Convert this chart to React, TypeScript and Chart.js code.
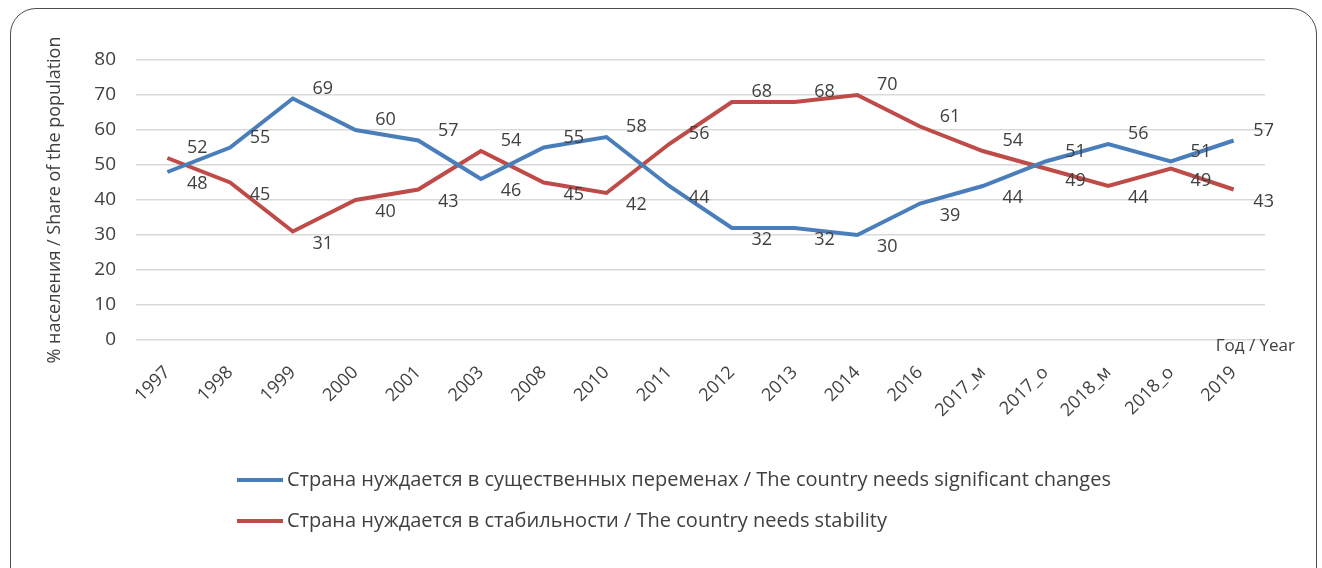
import React, { useEffect, useRef } from "react";
import { Chart, registerables } from "chart.js";

Chart.register(...registerables);

const categories = [
  "1997", "1998", "1999", "2000", "2001", "2003", "2008", "2010", "2011",
  "2012", "2013", "2014", "2016", "2017_м", "2017_о", "2018_м", "2018_о", "2019",
];
const changesValues = [48, 55, 69, 60, 57, 46, 55, 58, 44, 32, 32, 30, 39, 44, 51, 56, 51, 57];
const stabilityValues = [52, 45, 31, 40, 43, 54, 45, 42, 56, 68, 68, 70, 61, 54, 49, 44, 49, 43];
const seriesNames = [
  "Страна нуждается в существенных переменах / The country needs significant changes",
  "Страна нуждается в стабильности / The country needs stability",
];
const yAxisTitle = "% населения / Share of the population";
const xAxisTitle = "Год / Year";
const yMin = 0;
const yMax = 80;
const yStep = 10;

const FONT = "'Open Sans', 'DejaVu Sans', sans-serif";
const TEXT = "#404040";
const BLUE = "#4A7EBB";
const RED = "#BE4B48";

const labelsPlugin = {
  id: "pointLabels",
  afterDatasetsDraw(chart: any) {
    const ctx = chart.ctx;
    ctx.save();
    ctx.font = `18px ${FONT}`;
    ctx.fillStyle = TEXT;
    ctx.textAlign = "center";
    ctx.textBaseline = "middle";
    const sets = chart.data.datasets;
    sets.forEach((ds: any, d: number) => {
      const meta = chart.getDatasetMeta(d);
      const other = sets[1 - d].data;
      meta.data.forEach((pt: any, i: number) => {
        const v = ds.data[i];
        const up = v >= other[i];
        const dy = up ? -10 : 12;
        ctx.fillText(String(v), pt.x + 30, pt.y + dy);
      });
    });
    ctx.restore();
  },
};

const extrasPlugin = {
  id: "extras",
  afterDraw(chart: any) {
    const ctx = chart.ctx;
    const area = chart.chartArea;
    ctx.save();
    // x axis title
    ctx.font = `17px ${FONT}`;
    ctx.fillStyle = TEXT;
    ctx.textAlign = "right";
    ctx.textBaseline = "middle";
    ctx.fillText(xAxisTitle, area.right + 30, area.bottom + 6);
    // legend
    const colors = [BLUE, RED];
    const legendX = 237;
    const rows = [480, 521];
    ctx.font = `20px ${FONT}`;
    ctx.textAlign = "left";
    seriesNames.forEach((name, i) => {
      ctx.strokeStyle = colors[i];
      ctx.lineWidth = 4;
      ctx.beginPath();
      ctx.moveTo(legendX, rows[i]);
      ctx.lineTo(legendX + 46, rows[i]);
      ctx.stroke();
      ctx.fillStyle = TEXT;
      ctx.fillText(name, legendX + 50, rows[i]);
    });
    ctx.restore();
  },
};

export default function App() {
  const ref = useRef<HTMLCanvasElement | null>(null);

  useEffect(() => {
    if (!ref.current) return;
    const chart = new Chart(ref.current, {
      type: "line",
      data: {
        labels: categories,
        datasets: [
          {
            label: seriesNames[0],
            data: changesValues,
            borderColor: BLUE,
            backgroundColor: BLUE,
            borderWidth: 4,
            pointRadius: 0,
            tension: 0,
          },
          {
            label: seriesNames[1],
            data: stabilityValues,
            borderColor: RED,
            backgroundColor: RED,
            borderWidth: 4,
            pointRadius: 0,
            tension: 0,
          },
        ],
      },
      options: {
        responsive: false,
        animation: false,
        devicePixelRatio: 1,
        layout: { padding: { left: 44, top: 60, right: 57, bottom: 0 } },
        plugins: {
          legend: { display: false },
          tooltip: { enabled: false },
        },
        scales: {
          x: {
            offset: true,
            grid: { display: false, drawTicks: false },
            border: { display: false },
            ticks: {
              minRotation: 45,
              maxRotation: 45,
              autoSkip: false,
              padding: 22,
              color: TEXT,
              font: { family: FONT, size: 18 },
            },
            afterFit(scale: any) {
              scale.height = 228;
            },
          },
          y: {
            min: yMin,
            max: yMax,
            ticks: {
              stepSize: yStep,
              padding: 20,
              color: TEXT,
              font: { family: FONT, size: 19 },
            },
            grid: { color: "#D9D9D9", lineWidth: 1.5, drawTicks: false },
            border: { display: false },
            title: {
              display: true,
              text: yAxisTitle,
              color: TEXT,
              font: { family: FONT, size: 18 },
              padding: 0,
            },
            afterFit(scale: any) {
              scale.width = 92;
            },
          },
        },
      },
      plugins: [labelsPlugin, extrasPlugin],
    });
    return () => chart.destroy();
  }, []);

  return (
    <div
      style={{
        position: "fixed",
        left: 0,
        top: 0,
        width: 1322,
        height: 568,
        overflow: "hidden",
        background: "#fff",
      }}
    >
      <div
        style={{
          position: "absolute",
          left: 10,
          top: 8,
          width: 1307,
          height: 620,
          border: "1.5px solid #4d4d4d",
          borderRadius: 26,
          boxSizing: "border-box",
        }}
      />
      <canvas
        ref={ref}
        width={1322}
        height={568}
        style={{ position: "absolute", left: 0, top: 0, width: 1322, height: 568 }}
      />
    </div>
  );
}
